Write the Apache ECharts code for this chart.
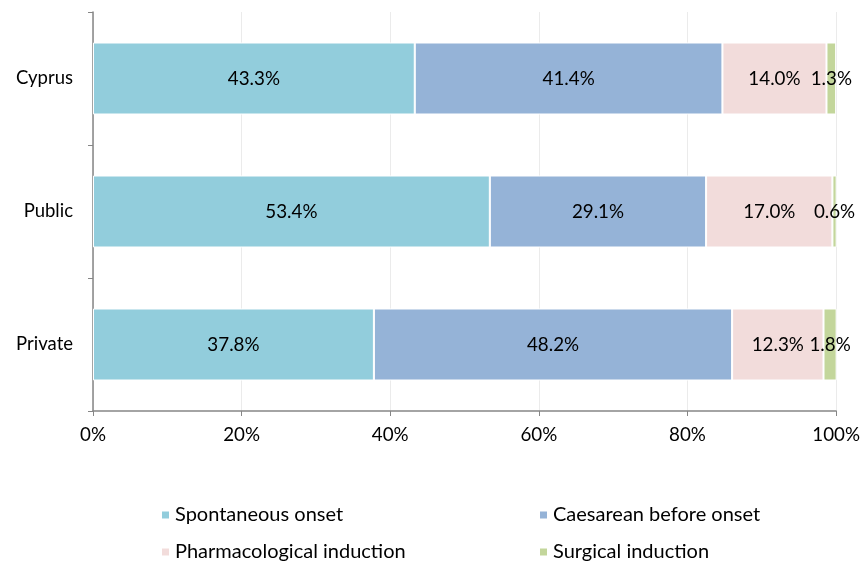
<!DOCTYPE html>
<html>
<head>
<meta charset="utf-8">
<script src="https://cdn.jsdelivr.net/npm/echarts@6/dist/echarts.min.js"></script>
<style>
  html, body { margin: 0; padding: 0; background: #fff; }
  #chart { width: 863px; height: 563px; }
</style>
</head>
<body>
<div id="chart"></div>
<script>
// categories (top to bottom)
const categories = ["Cyprus", "Public", "Private"];

// series values in percent
const spontaneous = [43.3, 53.4, 37.8];
const caesarean = [41.4, 29.1, 48.2];
const pharmacological = [14.0, 17.0, 12.3];
const surgical = [1.3, 0.6, 1.8];

const seriesNames = [
  "Spontaneous onset",
  "Caesarean before onset",
  "Pharmacological induction",
  "Surgical induction",
];
const seriesColors = ["#92CDDC", "#95B3D7", "#F2DCDB", "#C3D69B"];
const seriesValues = [spontaneous, caesarean, pharmacological, surgical];

const font = "Lato, 'Open Sans', sans-serif";

function makeSeries(i) {
  return {
    name: seriesNames[i],
    type: "bar",
    stack: "total",
    barWidth: 72,
    data: seriesValues[i],
    itemStyle: {
      color: seriesColors[i],
      borderColor: "#fff",
      borderWidth: 1,
    },
    label: {
      show: true,
      position: "inside",
      color: "#000",
      fontSize: 18.8,
      fontFamily: font,
      formatter: (p) => p.value.toFixed(1) + "%",
    },
  };
}

function makeLegend(left, names) {
  return {
    orient: "vertical",
    left: left,
    top: 505,
    height: 80,
    padding: 0,
    itemWidth: 9,
    itemHeight: 9,
    itemGap: 17,
    icon: "rect",
    textStyle: { fontSize: 20, color: "#000", fontFamily: font },
    data: names,
  };
}

let option = {
  backgroundColor: "#fff",
  animation: false,
  textStyle: { fontFamily: font },
  grid: { left: 93, right: 25, top: 12, bottom: 152 },
  legend: [
    makeLegend(160, [seriesNames[0], seriesNames[2]]),
    makeLegend(538, [seriesNames[1], seriesNames[3]]),
  ],
  xAxis: {
    type: "value",
    min: 0,
    max: 100,
    interval: 20,
    axisLine: { show: true, lineStyle: { color: "#868686", width: 1.5 } },
    axisTick: { show: true, length: 5, lineStyle: { color: "#868686" } },
    splitLine: { show: true, lineStyle: { color: "#ebebeb" } },
    axisLabel: {
      formatter: "{value}%",
      color: "#000",
      fontSize: 18.8,
      fontFamily: font,
      margin: 14,
    },
  },
  yAxis: {
    type: "category",
    inverse: true,
    data: categories,
    axisLine: { show: true, lineStyle: { color: "#868686", width: 1.5 } },
    axisTick: { show: true, length: 5, lineStyle: { color: "#868686" } },
    axisLabel: { color: "#000", fontSize: 18.5, fontFamily: font, margin: 20 },
  },
  series: [0, 1, 2, 3].map(makeSeries),
};

let myChart = echarts.init(document.getElementById("chart"));
myChart.setOption(option);
</script>
</body>
</html>
